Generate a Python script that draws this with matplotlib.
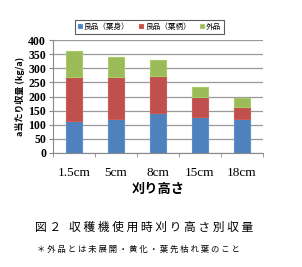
import matplotlib.pyplot as plt
import numpy as np

plt.rcParams['font.family'] = ['Noto Sans CJK JP', 'DejaVu Sans']

heights = ["1.5cm", "5cm", "8cm", "15cm", "18cm"]
blade = [112, 120, 141, 127, 122]
petiole = [156, 150, 132, 70, 41]
outside = [94, 70, 57, 37, 31]
series_names = ["良品（葉身）", "良品（葉柄）", "外品"]
colors = ["#4F81BD", "#C0504D", "#9BBB59"]
edges = ["#5B8FD0", "#D05A56", "#A9CC66"]

fig = plt.figure(figsize=(3.02, 2.67), dpi=100)
ax = fig.add_axes([0.1755, 0.427, 0.695, 0.423])

x = np.arange(len(heights))
bottom = np.zeros(len(heights))
for vals, name, c, e in zip([blade, petiole, outside], series_names, colors, edges):
    ax.bar(x, vals, 0.38, bottom=bottom, color=c, edgecolor=e, linewidth=0.8,
           label=name, zorder=3)
    bottom += np.array(vals)

ax.set_xlim(-0.5, len(heights) - 0.5)
ax.set_ylim(0, 400)
ax.set_yticks(range(0, 401, 50))
ax.yaxis.grid(True, color="#999999", linewidth=0.9, zorder=0)
for s in ["top", "right"]:
    ax.spines[s].set_visible(False)
ax.spines["left"].set_color("#888888")
ax.spines["bottom"].set_color("#888888")
ax.set_xticks(x)
ax.set_xticklabels(heights, family="Liberation Serif", fontsize=9.5)
ax.tick_params(axis="x", length=0, pad=10)
ax.set_xticks(np.arange(-0.5, len(heights)), minor=True)
ax.tick_params(axis="x", which="minor", length=3, color="#888888")
ax.tick_params(axis="y", length=3, color="#888888", pad=2)
for lab in ax.get_yticklabels():
    lab.set_family("Liberation Serif")
    lab.set_fontsize(8.5)
    lab.set_fontweight("bold")

ax.set_ylabel("a当たり収量 (kg/a)", fontsize=6.5, fontweight="bold", labelpad=2)
ax.set_xlabel("刈り高さ", fontsize=9.5, fontweight="bold", labelpad=2)

leg = fig.legend(loc="center", bbox_to_anchor=(0.495, 0.9), ncol=3, fontsize=5.5,
                 frameon=True, fancybox=False, edgecolor="#333333",
                 handlelength=0.5, handleheight=0.5, handletextpad=0.3,
                 columnspacing=1.2, borderpad=0.4)
leg.get_frame().set_linewidth(0.8)

caption = " ".join("図２") + "   " + " ".join("収穫機使用時刈り高さ別収量")
note = " ".join("＊外品とは未展開・黄化・葉先枯れ葉のこと")
fig.text(0.117, 0.148, caption, ha="left", va="center", fontsize=8.5)
fig.text(0.122, 0.068, note, ha="left", va="center", fontsize=6.0)

fig.savefig("out.png", dpi=100)
